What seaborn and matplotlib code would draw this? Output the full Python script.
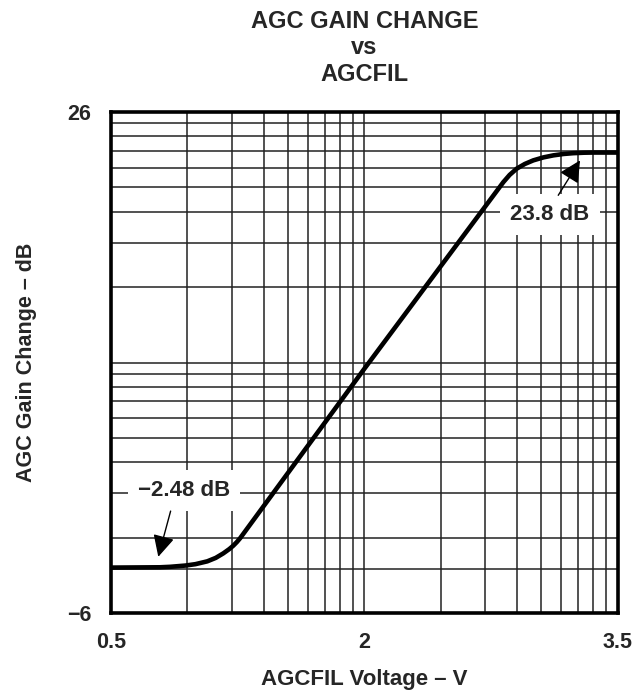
import numpy as np
import pandas as pd
import matplotlib
matplotlib.use("Agg")
import matplotlib.pyplot as plt
import seaborn as sns

# ---- data ----
agcfil_v = [0.50, 0.79, 0.85, 0.94, 1.00, 1.07, 1.12, 1.165, 1.20, 1.224, 1.245, 1.264,
            2.00, 2.823, 2.86, 2.902, 2.95, 3.00, 3.06, 3.119, 3.18, 3.237, 3.30, 3.356, 3.50]
gain_db = [-3.10, -3.08, -3.05, -2.97, -2.88, -2.70, -2.48, -2.19, -1.92, -1.70, -1.47, -1.23,
           9.60, 21.52, 21.98, 22.38, 22.68, 22.91, 23.10, 23.23, 23.32, 23.37, 23.40, 23.41, 23.41]

x_ticks = [0.5, 2, 3.5]
x_tick_labels = ["0.5", "2", "3.5"]
y_ticks = [-6, 26]
y_tick_labels = ["\u22126", "26"]

title_text = "AGC GAIN CHANGE\nvs\nAGCFIL"
x_label = "AGCFIL Voltage \u2013 V"
y_label = "AGC Gain Change \u2013 dB"

ann_low_text = "\u22122.48 dB"
ann_high_text = "23.8 dB"

df = pd.DataFrame({"v": agcfil_v, "g": gain_db})

sns.set_theme(style="white")
plt.rcParams["font.family"] = ["Liberation Sans", "DejaVu Sans"]
plt.rcParams["font.weight"] = "bold"

fig = plt.figure(figsize=(6.38, 6.96), dpi=100)
ax = fig.add_axes([111 / 638, 1 - 613 / 696, (617.7 - 111) / 638, (613 - 112) / 696])

x0, x1 = 0.5, 3.5
y0, y1 = -6, 26
ax.set_xlim(x0, x1)
ax.set_ylim(y0, y1)

# log-paper style background grid (two decades each way)
k = np.arange(1, 11)
fx = np.unique(np.concatenate([np.log10(k) / 2, 0.5 + np.log10(k) / 2]))
fy = np.unique(np.concatenate([np.log10(k) / 2, [np.log10(1.5) / 2], 0.5 + np.log10(k) / 2]))
for f in fx:
    ax.axvline(x0 + (x1 - x0) * f, color="#222222", lw=1.1, zorder=1)
for f in fy:
    ax.axhline(y0 + (y1 - y0) * f, color="#222222", lw=1.1, zorder=1)

sns.lineplot(data=df, x="v", y="g", ax=ax, color="black", lw=3.3, estimator=None, sort=False, zorder=5)

ax.set_xticks(x_ticks)
ax.set_xticklabels(x_tick_labels)
ax.set_yticks(y_ticks)
ax.set_yticklabels(y_tick_labels)
ax.tick_params(axis="x", length=0, labelsize=15.5, pad=14)
ax.tick_params(axis="y", length=0, labelsize=15.5, pad=14)
for lab in ax.get_xticklabels() + ax.get_yticklabels():
    lab.set_fontweight("bold")

ax.set_xlabel(x_label, fontsize=16, fontweight="bold", labelpad=11)
ax.set_ylabel(y_label, fontsize=15.5, fontweight="bold", labelpad=22)
ax.set_title(title_text, fontsize=17, fontweight="bold", pad=22, linespacing=1.22)

for s in ax.spines.values():
    s.set_visible(True)
    s.set_color("black")
    s.set_linewidth(2.6)
    s.set_zorder(6)

box = dict(boxstyle="square,pad=0.45", fc="white", ec="none")
ax.text(0.932, 1.85, ann_low_text, ha="center", va="center", fontsize=16, fontweight="bold", bbox=box, zorder=4)
ax.text(3.099, 19.46, ann_high_text, ha="center", va="center", fontsize=16, fontweight="bold", bbox=box, zorder=4)

arrow = dict(arrowstyle="-|>,head_length=0.6,head_width=0.3", color="black", lw=1.0, mutation_scale=22, shrinkA=0, shrinkB=0)
ax.annotate("", xy=(0.780, -2.41), xytext=(0.853, 0.51), arrowprops=arrow, zorder=6)
ax.annotate("", xy=(3.277, 22.91), xytext=(3.148, 20.68), arrowprops=arrow, zorder=6)

fig.savefig("out.png", dpi=100)
